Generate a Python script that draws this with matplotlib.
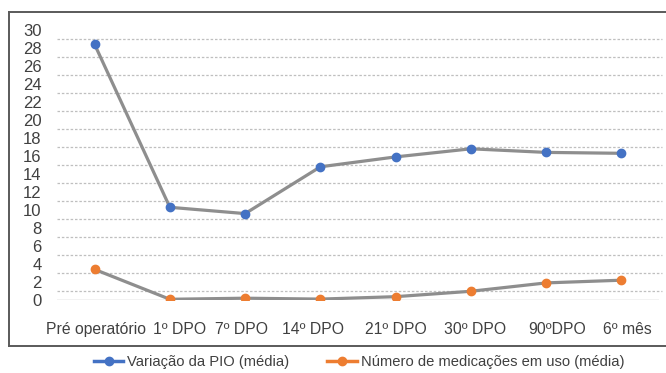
import matplotlib
matplotlib.use("Agg")
import matplotlib.pyplot as plt
from matplotlib.lines import Line2D
from matplotlib.transforms import ScaledTranslation

plt.rcParams['font.family'] = ['Liberation Sans', 'DejaVu Sans']

categories = ["Pré operatório", "1º DPO", "7º DPO", "14º DPO", "21º DPO",
              "30º DPO", "90ºDPO", "6º mês"]
pio = [28.4, 10.3, 9.6, 14.8, 15.9, 16.8, 16.4, 16.3]
medicacoes = [3.4, 0.08, 0.2, 0.1, 0.37, 0.97, 1.9, 2.2]
y_ticks = list(range(0, 31, 2))
series_labels = ["Variação da PIO (média)", "Número de medicações em uso (média)"]

W, H = 666, 373
fig = plt.figure(figsize=(W / 100, H / 100), dpi=100)
ax = fig.add_axes([57 / W, (H - 300) / H, (659 - 57) / W, 270 / H])

x = list(range(len(categories)))
blue = "#4472C4"
orange = "#ED7D31"
gray = "#8E8E8E"

# gridlines (dotted) slightly below each label position
for v in y_ticks[1:]:
    ax.axhline(v - 0.95, xmax=1.005, color="#BFBFBF", lw=0.9, ls=(0, (2, 1.5)), zorder=0, clip_on=False)
ax.axhline(0, color="#BFBFBF", lw=1.0, zorder=0.5)

ax.plot(x, pio, color=gray, lw=2.3, zorder=2, solid_capstyle='round')
ax.plot(x, pio, ls="none", marker="o", ms=6, color=blue, mec=blue, zorder=3)
ax.plot(x, medicacoes, color=gray, lw=2.3, zorder=2, solid_capstyle='round')
ax.plot(x, medicacoes, ls="none", marker="o", ms=6, color=orange, mec=orange, zorder=3)

ax.set_xlim(-0.5, len(categories) - 0.5)
ax.set_ylim(0, 30)
ax.set_yticks(y_ticks)
ax.set_yticklabels([str(v) for v in y_ticks], fontsize=12, color="#404040")
ax.set_xticks(x)
ax.set_xticklabels(categories, fontsize=11.3, color="#404040")
ax.tick_params(axis="both", length=0)
ax.tick_params(axis="y", pad=11)
ax.tick_params(axis="x", pad=16)
for s in ax.spines.values():
    s.set_visible(False)

# small horizontal nudges of the category labels as in the reference (pixels)
nudges = [1, 10, -4, -7, 0, 4, 11, 6]
for lbl, dx in zip(ax.get_xticklabels(), nudges):
    lbl.set_transform(lbl.get_transform() + ScaledTranslation(dx / 100, 0, fig.dpi_scale_trans))

# outer frame (top, left, bottom)
fc = "#5A5A5A"
fig.add_artist(Line2D([9 / W, 1.0], [1 - 12 / H, 1 - 12 / H], color=fc, lw=1.4, transform=fig.transFigure))
fig.add_artist(Line2D([9 / W, 9 / W], [1 - 12 / H, 1 - 346 / H], color=fc, lw=1.4, transform=fig.transFigure))
fig.add_artist(Line2D([9 / W, 1.0], [1 - 346 / H, 1 - 346 / H], color=fc, lw=1.4, transform=fig.transFigure))

handles = [Line2D([0], [0], color=blue, lw=2.5, marker="o", ms=6),
           Line2D([0], [0], color=orange, lw=2.5, marker="o", ms=6)]
fig.legend(handles, series_labels, loc="center", bbox_to_anchor=(359 / W, 1 - 362 / H),
           ncol=2, frameon=False, fontsize=10.6, handlelength=2.0, handletextpad=0.25,
           columnspacing=2.6, labelcolor="#404040", borderpad=0)

fig.savefig("out.png", dpi=100)
